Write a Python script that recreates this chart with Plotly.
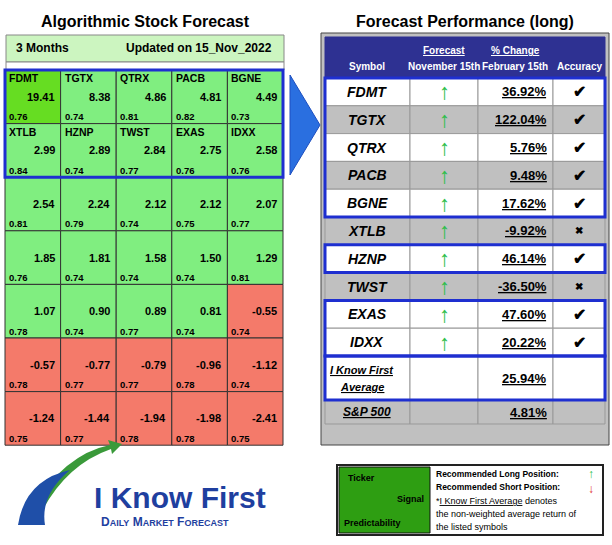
import plotly.graph_objects as go

tickers = ["FDMT","TGTX","QTRX","PACB","BGNE","XTLB","HZNP","TWST","EXAS","IDXX"] + [""]*25
signals = [19.41,8.38,4.86,4.81,4.49, 2.99,2.89,2.84,2.75,2.58,
           2.54,2.24,2.12,2.12,2.07, 1.85,1.81,1.58,1.50,1.29,
           1.07,0.90,0.89,0.81,-0.55, -0.57,-0.77,-0.79,-0.96,-1.12,
           -1.24,-1.44,-1.94,-1.98,-2.41]
predict = [0.76,0.74,0.81,0.82,0.73, 0.84,0.74,0.77,0.76,0.76,
           0.81,0.79,0.74,0.75,0.77, 0.76,0.74,0.74,0.74,0.81,
           0.78,0.74,0.77,0.74,0.74, 0.78,0.77,0.77,0.78,0.74,
           0.75,0.77,0.78,0.78,0.75]

perf_symbols = ["FDMT","TGTX","QTRX","PACB","BGNE","XTLB","HZNP","TWST","EXAS","IDXX"]
perf_change = ["36.92%","122.04%","5.76%","9.48%","17.62%","-9.92%","46.14%","-36.50%","47.60%","20.22%"]
perf_acc = ["✔","✔","✔","✔","✔","✖","✔","✖","✔","✔"]
avg_change = "25.94%"
sp_change = "4.81%"

shapes, ann = [], []
def rect(x0,y0,x1,y1,fill="rgba(0,0,0,0)",line="black",w=1):
    shapes.append(dict(type="rect",x0=x0,y0=y0,x1=x1,y1=y1,fillcolor=fill,line=dict(color=line,width=w),layer="above" if fill=="rgba(0,0,0,0)" else "below"))
def txt(x,y,t,size=11,color="black",bold=True,xa="center",italic=False,ul=False):
    s = t
    if ul: s = "<u>"+s+"</u>"
    if italic: s = "<i>"+s+"</i>"
    if bold: s = "<b>"+s+"</b>"
    ann.append(dict(x=x,y=y,text=s,showarrow=False,xanchor=xa,yanchor="middle",font=dict(size=size,color=color,family="Arial")))

# Left titles
txt(145,21,"Algorithmic Stock Forecast",16)
rect(6,35,284,62,"#CCF5C0","#888",1)
txt(14,48,"3 Months",12,xa="left")
txt(274,48,"Updated on 15_Nov_2022",12,xa="right")
rect(6,62,284,70,"white","#888",1)

# Grid
gx0, gy0, cw, rh = 5, 70, 55.6, 53.6
for i,v in enumerate(signals):
    r, c = divmod(i,5)
    x0 = gx0+c*cw; y0 = gy0+r*rh
    col = "#F47A6A" if v<0 else ("#66DD22" if i==0 else "#80EE80")
    rect(x0,y0,x0+cw,y0+rh,col,"#333",1)
    if tickers[i]: txt(x0+2,y0+8,tickers[i],10.5,xa="left")
    txt(x0+cw-4,y0+rh/2,f"{v:.2f}",11,xa="right")
    txt(x0+2,y0+rh-7,f"{predict[i]:.2f}",9.5,xa="left")
rect(gx0,gy0,gx0+5*cw,gy0+2*rh,line="#1E2FD0",w=3)

# Arrow chevron
shapes.append(dict(type="path",path="M 290 75 L 320 125 L 290 175 Z",fillcolor="#2A6FE0",line=dict(color="#1E4FC0",width=1)))

# Right table
txt(465,21,"Forecast Performance (long)",16)
rect(321,33,609,445,"#C0C0C0","#444",1)
rect(325,37,605,78,"#2E3192","#2E3192",1)
cx = [325,410,478,553,605]
txt(367,66,"Symbol",10,"white")
txt(444,50,"Forecast",10,"white",ul=True); txt(444,66,"November 15th",10,"white")
txt(515,50,"% Change",10,"white",ul=True); txt(515,66,"February 15th",10,"white")
txt(579,66,"Accuracy",10,"white")
rh2 = 27.8
grey = [1,3,5,7]
for i,s in enumerate(perf_symbols):
    y0 = 78+i*rh2
    fill = "#C0C0C0" if i in grey else "white"
    for j in range(4):
        rect(cx[j],y0,cx[j+1],y0+rh2,fill,"#999",1)
    yc = y0+rh2/2
    txt(367,yc,s,14,italic=True)
    txt(444,yc,"↑",22,"#2DBE4A",bold=False)
    txt(549,yc,perf_change[i],13,xa="right",ul=True)
    txt(579,yc,perf_acc[i],16 if perf_acc[i]=="✔" else 10)
y0 = 78+10*rh2
for j in range(4):
    rect(cx[j],y0,cx[j+1],y0+44,"white","#999",1)
txt(362,y0+14,"I Know First",11,italic=True,ul=True)
txt(362,y0+31,"Average",11,italic=True,ul=True)
txt(549,y0+22,avg_change,13,xa="right",ul=True)
y1 = y0+44
for j in range(4):
    rect(cx[j],y1,cx[j+1],y1+24,"#C0C0C0","#999",1)
txt(367,y1+12,"S&P 500",12,italic=True,ul=True)
txt(549,y1+12,sp_change,13,xa="right",ul=True)
for a,b in [(0,5),(6,7),(8,10)]:
    rect(325,78+a*rh2,605,78+b*rh2,line="#1E2FD0",w=3)
rect(325,y0,605,y0+44,line="#1E2FD0",w=3)

# Logo
shapes.append(dict(type="path",path="M 25 520 Q 60 455 110 445 L 108 440 L 122 444 L 112 454 L 111 449 Q 65 465 40 515 Z",fillcolor="#3A9A3A",line=dict(width=0)))
shapes.append(dict(type="path",path="M 18 525 Q 25 480 70 470 Q 40 495 45 525 Z",fillcolor="#1F4FA8",line=dict(width=0)))
txt(180,497,"I Know First",30,"#1F3F9F")
txt(165,522,"D<span style='font-size:9px'>AILY</span> M<span style='font-size:9px'>ARKET</span> F<span style='font-size:9px'>ORECAST</span>",12,"#1F3F9F")

# Legend box
rect(337,465,603,535,"white","#222",2)
rect(339,467,430,533,"#2E9E12","#111",1)
txt(346,478,"Ticker",9,xa="left")
txt(426,499,"Signal",9,xa="right")
txt(342,523,"Predictability",9,xa="left")
txt(434,474,"Recommended Long Position:",8.5,xa="left")
txt(434,487,"Recommended Short Position:",8.5,xa="left")
txt(591,474,"↑",12,"#2DBE4A",bold=False)
txt(591,489,"↓",12,"#E03030",bold=False)
txt(434,501,"*<u>I Know First Average</u> denotes",9,bold=False,xa="left")
txt(434,514,"the non-weighted average return of",9,bold=False,xa="left")
txt(434,527,"the listed symbols",9,bold=False,xa="left")

fig = go.Figure()
fig.update_layout(width=612,height=545,margin=dict(l=0,r=0,t=0,b=0),
    paper_bgcolor="white",plot_bgcolor="white",shapes=shapes,annotations=ann,
    xaxis=dict(range=[0,612],visible=False,fixedrange=True),
    yaxis=dict(range=[545,0],visible=False,fixedrange=True),showlegend=False)
fig.write_html("out.html", config={"displayModeBar": False},
    post_script="document.body.style.margin='0';document.body.style.overflow='hidden';")
